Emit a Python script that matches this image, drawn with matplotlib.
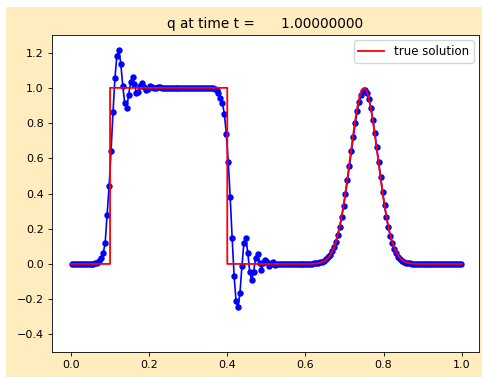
import numpy as np
import matplotlib
matplotlib.use("Agg")
import matplotlib.pyplot as plt
from matplotlib.patches import Rectangle

# ---- data -------------------------------------------------------------
x_lower, x_upper, num_cells = 0.0, 1.0, 200
q_num = [
    # x = 0.0025 .. 0.0525
    0.0, 0.0, 0.0, 0.0, 0.0, 0.0, 0.0, 0.0, 0.0, 0.0, 0.0,
    # x = 0.0575 .. 0.2325
    0.001, 0.003, 0.007, 0.016, 0.032, 0.060, 0.120, 0.280, 0.440, 0.640,
    0.860, 1.055, 1.183, 1.217, 1.136, 1.013, 0.913, 0.887, 0.957, 1.032,
    1.064, 1.023, 0.970, 0.975, 1.010, 1.025, 1.005, 0.988, 0.995, 1.008,
    1.006, 0.997, 0.998, 1.003, 1.002, 0.999,
    # x = 0.2375 .. 0.3575
    1.0, 1.0, 1.0, 1.0, 1.0, 1.0, 1.0, 1.0, 1.0, 1.0, 1.0, 1.0, 1.0,
    1.0, 1.0, 1.0, 1.0, 1.0, 1.0, 1.0, 1.0, 1.0, 1.0, 1.0, 1.0,
    # x = 0.3625 .. 0.5375
    0.998, 0.994, 0.985, 0.968, 0.940, 0.913, 0.853, 0.740, 0.580, 0.378,
    0.147, -0.068, -0.211, -0.247, -0.164, -0.013, 0.119, 0.149, 0.064, -0.045,
    -0.090, -0.045, 0.034, 0.058, 0.006, -0.032, 0.006, 0.021, 0.011, -0.013,
    0.000, 0.009, -0.004, 0.002, 0.002, -0.001,
    # x = 0.5425 .. 0.5775
    0.0, 0.0, 0.0, 0.0, 0.0, 0.0, 0.0, 0.0,
    # x = 0.5825 .. 0.8775
    0.0, 0.0, 0.0, 0.0, 0.0, 0.001, 0.001, 0.002, 0.003, 0.004,
    0.006, 0.009, 0.013, 0.019, 0.027, 0.038, 0.052, 0.071, 0.095, 0.126,
    0.164, 0.210, 0.264, 0.327, 0.397, 0.474, 0.556, 0.639, 0.721, 0.799,
    0.866, 0.921, 0.961, 0.983, 0.987, 0.971, 0.935, 0.884, 0.819, 0.744,
    0.662, 0.577, 0.492, 0.410, 0.334, 0.266, 0.207, 0.157, 0.117, 0.085,
    0.061, 0.042, 0.029, 0.019, 0.012, 0.008, 0.005, 0.003, 0.002, 0.001,
    # x = 0.8825 .. 0.9975
    0.0, 0.0, 0.0, 0.0, 0.0, 0.0, 0.0, 0.0, 0.0, 0.0, 0.0, 0.0,
    0.0, 0.0, 0.0, 0.0, 0.0, 0.0, 0.0, 0.0, 0.0, 0.0, 0.0, 0.0,
]

# true solution: square pulse then a bump sampled every 0.005 on [0.6, 0.9]
x_square = [0.0, 0.1, 0.1, 0.4, 0.4]
q_square = [0.0, 0.0, 1.0, 1.0, 0.0]
bump_half = [0.0, 0.0002, 0.0004, 0.0007, 0.0012, 0.0019, 0.0032, 0.0051,
             0.0079, 0.0122, 0.0183, 0.0271, 0.0392, 0.0556, 0.0773, 0.1054,
             0.1409, 0.1845, 0.2369, 0.2982, 0.3679, 0.4449, 0.5273, 0.6126,
             0.6977, 0.7788, 0.8521, 0.9139, 0.9608, 0.9900]
q_bump = bump_half + [1.0] + bump_half[::-1]
x_end = [1.0]
q_end = [0.0]

title_text = "q at time t =      1.00000000"
legend_label = "true solution"
x_ticks = [0.0, 0.2, 0.4, 0.6, 0.8, 1.0]
y_ticks = [-0.4, -0.2, 0.0, 0.2, 0.4, 0.6, 0.8, 1.0, 1.2]

# ---- figure -----------------------------------------------------------
W, H = 482, 377
fig = plt.figure(figsize=(W / 100, H / 100), dpi=100, facecolor="white")
fig.patches.append(Rectangle((6 / W, 0), 1 - 6 / W, 370 / H,
                             transform=fig.transFigure, facecolor="#FFECBF",
                             edgecolor="none", zorder=-10))

ax = fig.add_axes([52 / W, 25 / H, 427 / W, 317 / H])
ax.set_facecolor("white")

dx = (x_upper - x_lower) / num_cells
xc = x_lower + dx * (np.arange(num_cells) + 0.5)
ax.plot(xc, q_num, "b-o", lw=1.2, ms=3.6, zorder=2)

x_bump = np.linspace(0.6, 0.9, len(q_bump))
x_true = np.concatenate([x_square, x_bump, x_end])
q_true = np.concatenate([q_square, q_bump, q_end])
ax.plot(x_true, q_true, color="red", lw=1.3, label=legend_label, zorder=3)

ax.set_xlim(-0.0486, 1.0443)
ax.set_ylim(-0.5, 1.3)
ax.set_xticks(x_ticks)
ax.set_yticks(y_ticks)
ax.tick_params(labelsize=8, length=2.6, width=0.6)
for s in ax.spines.values():
    s.set_linewidth(0.6)
ax.set_title(title_text, fontsize=9.8, pad=5)
ax.legend(loc="upper right", fontsize=8.5, framealpha=0.8,
          borderaxespad=0.45, handlelength=2.2)

fig.savefig("out.png", dpi=100, facecolor=fig.get_facecolor())
